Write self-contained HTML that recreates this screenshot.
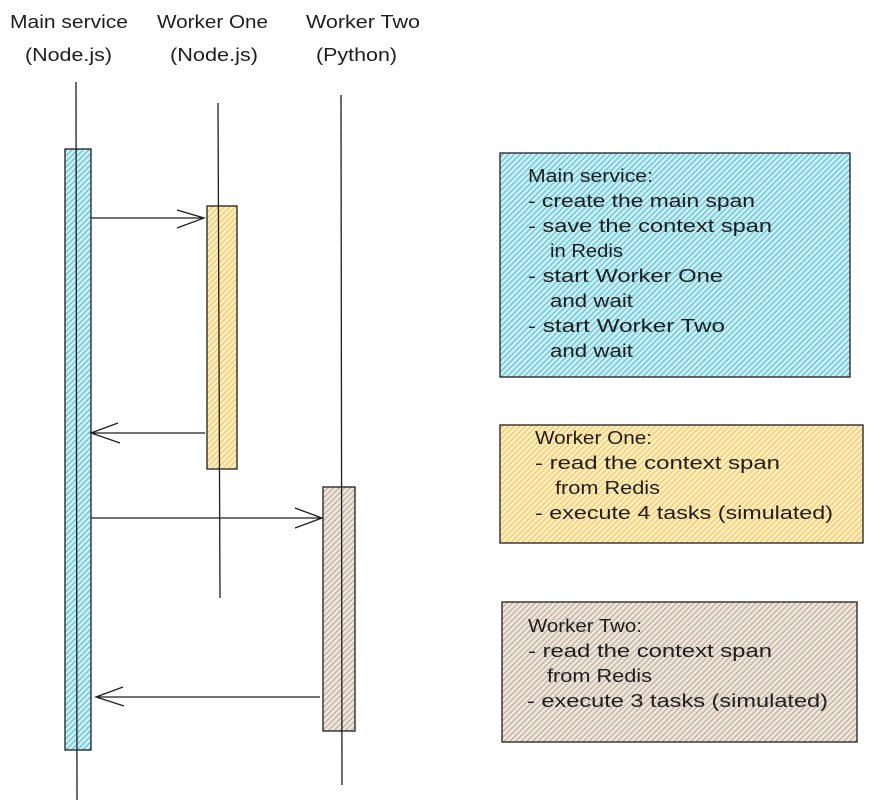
<!DOCTYPE html>
<html><head><meta charset="utf-8"><style>
html,body{margin:0;padding:0;background:#fff;}
svg{display:block;}
text{font-family:"Liberation Sans",sans-serif;font-size:18px;fill:#1e1e1e;}
</style></head><body>
<svg width="876" height="811" viewBox="0 0 876 811" xmlns="http://www.w3.org/2000/svg">
<defs>
<pattern id="hb" width="4" height="4" patternUnits="userSpaceOnUse" patternTransform="rotate(45)"><rect width="4" height="4" fill="#d3f0f5"/><rect width="1.6" height="4" fill="#6fcbdc"/></pattern>
<pattern id="hy" width="4" height="4" patternUnits="userSpaceOnUse" patternTransform="rotate(45)"><rect width="4" height="4" fill="#fff1cc"/><rect width="1.6" height="4" fill="#f8cd6a"/></pattern>
<pattern id="hw" width="4" height="4" patternUnits="userSpaceOnUse" patternTransform="rotate(45)"><rect width="4" height="4" fill="#efe8e1"/><rect width="1.6" height="4" fill="#c8b6a4"/></pattern>
</defs>
<g lengthAdjust="spacingAndGlyphs">
<text x="10" y="28" textLength="118" lengthAdjust="spacingAndGlyphs">Main service</text>
<text x="25" y="61" textLength="87" lengthAdjust="spacingAndGlyphs">(Node.js)</text>
<text x="157" y="28" textLength="111" lengthAdjust="spacingAndGlyphs">Worker One</text>
<text x="170" y="61" textLength="88" lengthAdjust="spacingAndGlyphs">(Node.js)</text>
<text x="306" y="28" textLength="114" lengthAdjust="spacingAndGlyphs">Worker Two</text>
<text x="316" y="61" textLength="81" lengthAdjust="spacingAndGlyphs">(Python)</text>
</g>
<g stroke="#1e1e1e" stroke-width="1.3" fill="none">
<rect x="65" y="149" width="26" height="601" fill="url(#hb)"/>
<rect x="207" y="206" width="30" height="263" fill="url(#hy)"/>
<rect x="323" y="487" width="32" height="244" fill="url(#hw)"/>
<line x1="76" y1="82" x2="77" y2="800"/>
<line x1="218" y1="103" x2="220" y2="598"/>
<line x1="341" y1="95" x2="342" y2="785"/>
<path d="M91 218 H204 M177 210 L204 218 L177 228"/>
<path d="M205 433 H91 M118 423 L91 433 L120 443"/>
<path d="M91 518 H322 M295 508 L322 518 L295 528"/>
<path d="M320 697 H96 M123 687 L96 697 L124 706"/>
<rect x="500" y="153" width="350" height="224" fill="url(#hb)"/>
<rect x="500" y="425" width="363" height="118" fill="url(#hy)"/>
<rect x="502" y="602" width="355" height="140" fill="url(#hw)"/>
</g>
<text x="528" y="182" textLength="125" lengthAdjust="spacingAndGlyphs">Main service:</text>
<text x="528" y="207" textLength="227" lengthAdjust="spacingAndGlyphs">- create the main span</text>
<text x="528" y="232" textLength="244" lengthAdjust="spacingAndGlyphs">- save the context span</text>
<text x="550" y="257" textLength="73" lengthAdjust="spacingAndGlyphs">in Redis</text>
<text x="528" y="282" textLength="195" lengthAdjust="spacingAndGlyphs">- start Worker One</text>
<text x="550" y="307" textLength="83" lengthAdjust="spacingAndGlyphs">and wait</text>
<text x="528" y="332" textLength="197" lengthAdjust="spacingAndGlyphs">- start Worker Two</text>
<text x="550" y="357" textLength="83" lengthAdjust="spacingAndGlyphs">and wait</text>
<text x="535" y="444" textLength="117" lengthAdjust="spacingAndGlyphs">Worker One:</text>
<text x="535" y="469" textLength="245" lengthAdjust="spacingAndGlyphs">- read the context span</text>
<text x="555" y="494" textLength="105" lengthAdjust="spacingAndGlyphs">from Redis</text>
<text x="535" y="519" textLength="298" lengthAdjust="spacingAndGlyphs">- execute 4 tasks (simulated)</text>
<text x="528" y="632" textLength="114" lengthAdjust="spacingAndGlyphs">Worker Two:</text>
<text x="528" y="657" textLength="244" lengthAdjust="spacingAndGlyphs">- read the context span</text>
<text x="547" y="682" textLength="105" lengthAdjust="spacingAndGlyphs">from Redis</text>
<text x="527" y="707" textLength="301" lengthAdjust="spacingAndGlyphs">- execute 3 tasks (simulated)</text>
</svg>
</body></html>
